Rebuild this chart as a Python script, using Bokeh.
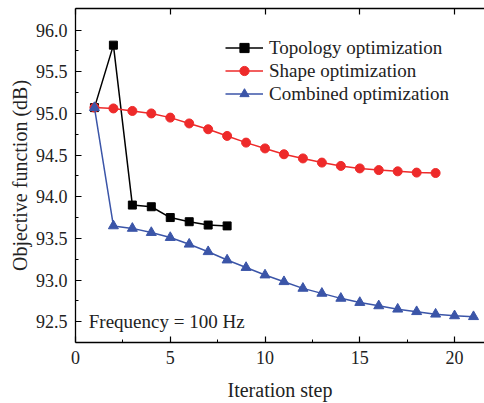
from bokeh.plotting import figure
from bokeh.models import Range1d, LinearAxis, Legend, LegendItem, Label, FixedTicker, NumeralTickFormatter
from bokeh.embed import file_html
from bokeh.resources import INLINE

topo_x = [1, 2, 3, 4, 5, 6, 7, 8]
topo_y = [95.07, 95.82, 93.90, 93.88, 93.75, 93.70, 93.66, 93.65]

shape_x = list(range(1, 20))
shape_y = [95.07, 95.06, 95.03, 95.00, 94.95, 94.88, 94.81, 94.73, 94.65, 94.58,
           94.51, 94.46, 94.41, 94.37, 94.34, 94.32, 94.305, 94.29, 94.285]

comb_x = list(range(1, 22))
comb_y = [95.07, 93.65, 93.62, 93.57, 93.51, 93.43, 93.34, 93.24, 93.15, 93.06,
          92.98, 92.90, 92.84, 92.78, 92.73, 92.69, 92.65, 92.62, 92.59, 92.57, 92.56]

x_ticks = [0, 5, 10, 15, 20]
y_ticks = [92.5, 93.0, 93.5, 94.0, 94.5, 95.0, 95.5, 96.0]

FONT = "'Liberation Serif', 'Times New Roman', serif"
BLACK = "#000000"
RED = "#ee2a2a"
BLUE = "#3b55a8"

p = figure(width=484, height=403, output_backend="svg", toolbar_location=None,
           x_range=Range1d(0, 21.58), y_range=Range1d(92.25, 96.26),
           min_border_left=75, min_border_right=0, min_border_top=8, min_border_bottom=56)
p.outline_line_color = None
p.grid.visible = False
p.background_fill_color = "white"

p.axis.major_tick_in = 6
p.axis.major_tick_out = 0
p.axis.minor_tick_in = 3
p.axis.minor_tick_out = 0
p.axis.axis_line_width = 1.3
p.axis.major_tick_line_width = 1.2
p.axis.major_label_text_font = FONT
p.axis.major_label_text_font_size = "18px"
p.axis.major_label_text_color = "#222222"
p.axis.axis_label_text_font = FONT
p.axis.axis_label_text_font_size = "20px"
p.axis.axis_label_text_font_style = "normal"
p.axis.axis_label_text_color = "#222222"

p.xaxis.ticker = FixedTicker(ticks=x_ticks, minor_ticks=[2.5, 7.5, 12.5, 17.5])
p.yaxis.ticker = FixedTicker(ticks=y_ticks,
                             minor_ticks=[92.75, 93.25, 93.75, 94.25, 94.75, 95.25, 95.75])
p.yaxis.formatter = NumeralTickFormatter(format="0.0")
p.xaxis.axis_label = "Iteration step"
p.yaxis.axis_label = "Objective function (dB)"
p.xaxis.major_label_standoff = 8
p.yaxis.major_label_standoff = 8
p.xaxis.axis_label_standoff = 12
p.yaxis.axis_label_standoff = 2

top = LinearAxis(ticker=FixedTicker(ticks=x_ticks, minor_ticks=[]),
                 major_tick_in=6, major_tick_out=0, minor_tick_in=0, minor_tick_out=0,
                 axis_line_width=1.3, major_tick_line_width=1.2)
top.major_label_text_alpha = 0
top.major_label_text_font_size = "1px"
top.major_label_standoff = 0
p.add_layout(top, "above")

r1l = p.line(topo_x, topo_y, line_color=BLACK, line_width=1.5)
r1m = p.scatter(topo_x, topo_y, marker="square", size=8, fill_color=BLACK, line_color=BLACK)
r2l = p.line(shape_x, shape_y, line_color=RED, line_width=1.5)
r2m = p.scatter(shape_x, shape_y, marker="circle", size=9, fill_color=RED, line_color=RED)
r3l = p.line(comb_x, comb_y, line_color=BLUE, line_width=1.5)
r3m = p.scatter(comb_x, comb_y, marker="triangle", size=10, fill_color=BLUE, line_color=BLUE)

legend = Legend(items=[
    LegendItem(label="Topology optimization", renderers=[r1l, r1m]),
    LegendItem(label="Shape optimization", renderers=[r2l, r2m]),
    LegendItem(label="Combined optimization", renderers=[r3l, r3m]),
], border_line_color=None, background_fill_alpha=0,
    label_text_font=FONT, label_text_font_size="19px", label_text_color="#222222",
    glyph_width=38, glyph_height=23, label_height=23, spacing=0, label_standoff=6,
    padding=0, margin=0)
p.add_layout(legend, "center")
legend.location = (150, 237)

p.add_layout(Label(x=0.7, y=92.5, text="Frequency = 100 Hz", text_font=FONT,
                   text_font_size="19px", text_color="#222222", text_baseline="middle"))

open("out.html", "w").write(file_html(p, INLINE))
